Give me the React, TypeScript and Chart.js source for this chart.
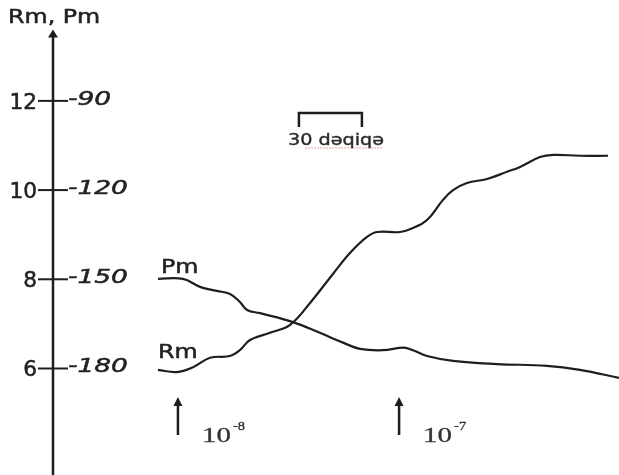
import React, { useEffect, useRef } from 'react';
import { Chart, registerables } from 'chart.js';

Chart.register(...registerables);

// time in minutes from start of recording
const rmTime = [0, 9, 16.7, 24.8, 34.3, 39, 43.8, 53.3, 62.9, 72.4, 83.3, 91.4, 99.5, 104.3, 115.2, 121.4, 128.1, 135.7, 140.5, 147.1, 156.7, 166.2, 172.4, 181.9, 188.1, 201, 214.3];
const rmValues = [5.97, 5.92, 6.03, 6.24, 6.28, 6.41, 6.64, 6.8, 6.98, 7.47, 8.12, 8.59, 8.95, 9.06, 9.06, 9.15, 9.33, 9.78, 10.0, 10.16, 10.25, 10.41, 10.52, 10.74, 10.79, 10.77, 10.77];

const pmTime = [0, 11.9, 20, 28, 34.3, 39, 42.4, 48.6, 64.3, 77.1, 88.1, 96.2, 107.1, 117.1, 121.4, 128.1, 140.5, 161.4, 185.2, 200.9, 219.5];
const pmValues = [8.01, 8.01, 7.83, 7.74, 7.67, 7.49, 7.31, 7.24, 7.04, 6.8, 6.58, 6.44, 6.41, 6.47, 6.41, 6.28, 6.17, 6.1, 6.06, 5.97, 5.79];

const leftTickValues = [6, 8, 10, 12];
const leftTickLabels = ['6', '8', '10', '12'];
const rightTickLabels = ['-180', '-150', '-120', '-90'];
const axisTitle = 'Rm, Pm';

const markerTimes = [9.5, 114.8];
const markerBase = ['10', '10'];
const markerExp = ['-8', '-7'];

const scaleBarStart = 67.1;
const scaleBarMinutes = 30;
const scaleBarLabel = '30 dəqiqə';

const axisTime = -50;
const axisTopValue = 13.6;

const X_MIN = -75.24;
const X_MAX = 219.52;
const Y_MIN = 3.612;
const Y_MAX = 14.262;

const INK = '#1e1e1e';

function drawText(ctx: CanvasRenderingContext2D, str: string, x: number, y: number, font: string, align: CanvasTextAlign, sx: number, weight = 0.5) {
  ctx.save();
  ctx.font = font;
  ctx.textAlign = align;
  ctx.textBaseline = 'alphabetic';
  ctx.translate(x, y);
  ctx.scale(sx, 1);
  ctx.fillText(str, 0, 0);
  if (weight > 0) {
    ctx.lineWidth = weight;
    ctx.strokeStyle = ctx.fillStyle as string;
    ctx.strokeText(str, 0, 0);
  }
  ctx.restore();
}

const decorPlugin = {
  id: 'decor',
  afterDraw(chart: any) {
    const ctx: CanvasRenderingContext2D = chart.ctx;
    const xs = chart.scales.x;
    const ys = chart.scales.y;
    ctx.save();
    ctx.fillStyle = INK;
    ctx.strokeStyle = INK;

    // vertical axis
    const ax = xs.getPixelForValue(axisTime);
    const topY = ys.getPixelForValue(axisTopValue);
    const botY = ys.getPixelForValue(Y_MIN);
    ctx.lineWidth = 2.5;
    ctx.beginPath();
    ctx.moveTo(ax, botY);
    ctx.lineTo(ax, topY + 6);
    ctx.stroke();
    ctx.beginPath();
    ctx.moveTo(ax, topY);
    ctx.lineTo(ax - 5, topY + 8);
    ctx.lineTo(ax + 5, topY + 8);
    ctx.closePath();
    ctx.fill();

    ctx.fillStyle = '#222';
    // axis title
    drawText(ctx, axisTitle, 8, 23, "19px 'DejaVu Sans'", 'left', 1.25);

    // ticks and labels
    leftTickValues.forEach((v, i) => {
      const y = ys.getPixelForValue(v);
      ctx.strokeStyle = INK;
      ctx.lineWidth = 2;
      ctx.beginPath();
      ctx.moveTo(ax - 15, y);
      ctx.lineTo(ax + 15, y);
      ctx.stroke();
      drawText(ctx, leftTickLabels[i], ax - 16, y + 8, "21px 'DejaVu Sans'", 'right', 1.03);
      drawText(ctx, rightTickLabels[i], ax + 15, y + 4, "italic 20px 'DejaVu Sans'", 'left', 1.32);
    });

    // series labels
    const rm0x = xs.getPixelForValue(rmTime[0]);
    const rm0y = ys.getPixelForValue(rmValues[0]);
    const pm0x = xs.getPixelForValue(pmTime[0]);
    const pm0y = ys.getPixelForValue(pmValues[0]);
    drawText(ctx, 'Pm', pm0x + 3, pm0y - 6, "19px 'DejaVu Sans'", 'left', 1.25);
    drawText(ctx, 'Rm', rm0x, rm0y - 12, "19px 'DejaVu Sans'", 'left', 1.25);

    // scale bar
    const sb0 = xs.getPixelForValue(scaleBarStart);
    const sb1 = xs.getPixelForValue(scaleBarStart + scaleBarMinutes);
    ctx.strokeStyle = INK;
    ctx.lineWidth = 2.5;
    ctx.beginPath();
    ctx.moveTo(sb0, 127);
    ctx.lineTo(sb0, 113);
    ctx.lineTo(sb1, 113);
    ctx.lineTo(sb1, 127);
    ctx.stroke();
    ctx.fillStyle = '#2a2a2a';
    drawText(ctx, scaleBarLabel, sb0 - 11, 145, "16px 'DejaVu Sans'", 'left', 1.2, 0.4);
    ctx.strokeStyle = 'rgba(220,70,70,0.55)';
    ctx.lineWidth = 1;
    ctx.setLineDash([2, 1]);
    ctx.beginPath();
    ctx.moveTo(sb0 + 6, 148);
    ctx.lineTo(sb1 + 20, 148);
    ctx.stroke();
    ctx.setLineDash([]);

    // markers
    markerTimes.forEach((t, i) => {
      const x = xs.getPixelForValue(t);
      ctx.fillStyle = INK;
      ctx.strokeStyle = INK;
      ctx.lineWidth = 2.5;
      ctx.beginPath();
      ctx.moveTo(x, 435);
      ctx.lineTo(x, 404);
      ctx.stroke();
      ctx.beginPath();
      ctx.moveTo(x, 397);
      ctx.lineTo(x - 4.5, 406);
      ctx.lineTo(x + 4.5, 406);
      ctx.closePath();
      ctx.fill();
      ctx.fillStyle = '#333';
      drawText(ctx, markerBase[i], x + 24, 442, "21px 'Liberation Serif'", 'left', 1.38, 0.3);
      drawText(ctx, markerExp[i], x + 55, 430, "12px 'Liberation Serif'", 'left', 1.2, 0.3);
    });
    ctx.restore();
  },
};

export default function App() {
  const ref = useRef<HTMLCanvasElement | null>(null);
  useEffect(() => {
    if (!ref.current) return;
    const chart = new Chart(ref.current, {
      type: 'line',
      data: {
        datasets: [
          {
            label: 'Pm',
            data: pmTime.map((t, i) => ({ x: t, y: pmValues[i] })),
            borderColor: INK,
            borderWidth: 2.2,
            pointRadius: 0,
            tension: 0.4,
            fill: false,
          },
          {
            label: 'Rm',
            data: rmTime.map((t, i) => ({ x: t, y: rmValues[i] })),
            borderColor: INK,
            borderWidth: 2.2,
            pointRadius: 0,
            tension: 0.4,
            fill: false,
          },
        ],
      },
      options: {
        animation: false,
        responsive: false,
        maintainAspectRatio: false,
        layout: { padding: 0 },
        plugins: { legend: { display: false }, tooltip: { enabled: false } },
        scales: {
          x: { type: 'linear', min: X_MIN, max: X_MAX, display: false },
          y: { type: 'linear', min: Y_MIN, max: Y_MAX, display: false },
        },
      },
      plugins: [decorPlugin],
    });
    return () => chart.destroy();
  }, []);
  return (
    <div style={{ position: 'fixed', left: 0, top: 0, width: 619, height: 475, background: '#fff' }}>
      <canvas ref={ref} width={619} height={475} style={{ display: 'block' }} />
    </div>
  );
}
